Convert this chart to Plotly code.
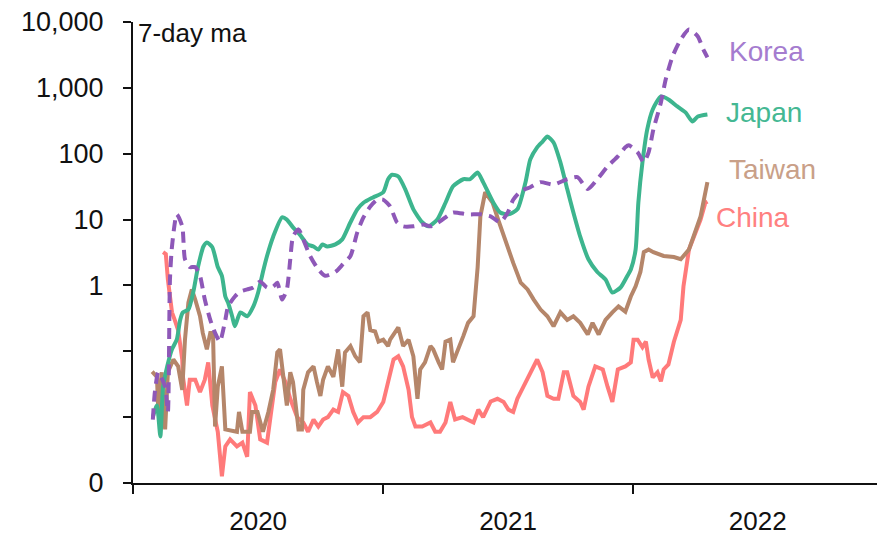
import pandas as pd
import plotly.graph_objects as go

# Daily new cases, 7-day moving average (log scale); x given as days since 1 Jan 2020
START = pd.Timestamp("2020-01-01")

korea_day = [29, 32, 37, 47, 51, 54, 57, 64, 72, 76, 83, 91, 98, 105, 113, 120, 127, 135, 139,
             149, 157, 167, 176, 186, 196, 205, 211, 218, 225, 230, 234, 242, 249, 259, 271, 281,
             296, 307, 318, 328, 337, 347, 357, 366, 376, 386, 395, 410, 425, 435, 449, 468, 489,
             508, 523, 537, 548, 556, 567, 581, 596, 615, 635, 650, 665, 679, 694, 709, 720, 725,
             738, 747, 754, 761, 772, 779, 789, 801, 813, 826, 834, 840]
korea_val = [0.0092, 0.024, 0.048, 0.029, 0.012, 1.2, 3.9, 12, 7.9, 2.5, 1.9, 1.9, 1.4, 0.61, 0.30,
             0.19, 0.14, 0.30, 0.48, 0.68, 0.81, 0.87, 0.93, 1.15, 0.93, 0.96, 1.1, 0.61, 0.87, 2.5,
             5.5, 7.1, 5.0, 2.8, 1.75, 1.4, 1.6, 2.1, 2.8, 6.4, 10.8, 15.8, 20, 20, 15.8, 9.1, 7.9,
             7.9, 8.4, 7.9, 9.4, 12.8, 12, 12, 11.2, 9.1, 12.8, 20, 27, 31, 37, 34, 41, 44, 29, 41,
             64, 91, 125, 134, 105, 74, 105, 234, 600, 1340, 3000, 5430, 7700, 6040, 3830, 2900]

japan_day = [29, 35, 40, 44, 50, 57, 64, 69, 73, 81, 88, 95, 103, 108, 116, 124, 130, 135, 139, 145,
             149, 157, 167, 176, 183, 190, 196, 205, 218, 225, 234, 244, 255, 264, 271, 277, 284,
             296, 306, 318, 328, 337, 351, 366, 373, 379, 388, 398, 410, 423, 432, 445, 457, 468,
             483, 493, 504, 512, 527, 537, 549, 562, 574, 581, 591, 599, 606, 615, 625, 635, 644,
             654, 666, 679, 691, 701, 713, 723, 728, 735, 739, 745, 752, 760, 772, 783, 796, 808,
             818, 826, 840]
japan_val = [0.010, 0.015, 0.0051, 0.029, 0.059, 0.107, 0.15, 0.30, 0.39, 0.43, 0.78, 1.9, 3.9, 4.5,
             3.8, 1.9, 1.4, 0.68, 0.55, 0.34, 0.24, 0.39, 0.34, 0.48, 0.78, 1.6, 2.8, 5.5, 10.8, 10,
             7.6, 5.9, 4.2, 3.9, 3.5, 4.2, 3.9, 4.2, 5.0, 9.1, 14.3, 18, 21.7, 26, 41, 48, 45, 29,
             14.3, 9.1, 7.9, 10, 18, 32, 41, 41, 52, 37, 18, 12.8, 12, 14.3, 37, 82, 125, 153, 183,
             148, 74, 29, 12.8, 5.5, 2.5, 1.6, 1.23, 0.78, 0.93, 1.4, 1.75, 3.5, 18, 74, 234, 470,
             740, 667, 522, 424, 309, 368, 395]

taiwan_day = [28, 35, 37, 42, 47, 51, 59, 66, 72, 76, 81, 86, 91, 98, 102, 108, 113, 117, 120, 124,
              130, 135, 152, 155, 160, 171, 174, 182, 190, 198, 205, 211, 215, 220, 225, 230, 234,
              240, 242, 247, 249, 256, 264, 269, 274, 278, 285, 293, 300, 306, 310, 318, 325, 332,
              337, 343, 347, 354, 359, 366, 373, 376, 388, 395, 403, 410, 416, 420, 427, 435, 439,
              447, 452, 457, 464, 468, 476, 483, 490, 498, 504, 508, 515, 526, 534, 545, 552, 556,
              567, 577, 586, 596, 606, 615, 625, 635, 644, 654, 665, 672, 681, 691, 701, 710, 720,
              728, 735, 742, 747, 754, 761, 776, 791, 801, 813, 823, 830, 840]
taiwan_val = [0.049, 0.041, 0.012, 0.048, 0.0065, 0.048, 0.075, 0.059, 0.026, 0.15, 0.55, 0.87,
              0.61, 0.34, 0.19, 0.107, 0.19, 0.19, 0.0072, 0.029, 0.059, 0.0065, 0.006, 0.012,
              0.006, 0.006, 0.012, 0.012, 0.006, 0.012, 0.026, 0.096, 0.107, 0.041, 0.015, 0.048,
              0.034, 0.010, 0.0065, 0.0065, 0.026, 0.048, 0.059, 0.034, 0.021, 0.037, 0.059, 0.041,
              0.107, 0.029, 0.096, 0.12, 0.084, 0.068, 0.34, 0.39, 0.21, 0.20, 0.14, 0.15, 0.12,
              0.15, 0.23, 0.12, 0.15, 0.084, 0.019, 0.053, 0.068, 0.12, 0.107, 0.068, 0.053, 0.14,
              0.15, 0.068, 0.107, 0.17, 0.27, 0.34, 1.9, 11.2, 26, 18, 10, 4.5, 2.8, 2.2, 1.1,
              0.87, 0.61, 0.43, 0.34, 0.24, 0.39, 0.30, 0.34, 0.27, 0.18, 0.27, 0.18, 0.30, 0.39,
              0.48, 0.40, 0.68, 0.97, 1.6, 3.2, 3.5, 3.2, 2.8, 2.7, 2.5, 3.5, 7.1, 11.2, 37]

china_day = [44, 48, 51, 57, 61, 66, 72, 73, 79, 83, 91, 98, 105, 110, 116, 120, 124, 130, 135, 142,
             152, 160, 167, 171, 179, 186, 196, 201, 208, 215, 223, 230, 240, 249, 256, 264, 271,
             278, 285, 293, 300, 307, 315, 322, 329, 337, 347, 357, 366, 373, 381, 388, 395, 403,
             408, 413, 423, 435, 442, 449, 457, 464, 471, 482, 490, 498, 505, 512, 523, 533, 542,
             549, 556, 562, 571, 581, 591, 599, 606, 615, 622, 630, 635, 644, 654, 659, 666, 676,
             687, 694, 701, 709, 720, 728, 732, 738, 745, 750, 754, 760, 767, 772, 776, 783, 791,
             801, 805, 813, 823, 830, 837, 840]
china_val = [3.2, 3.0, 1.23, 0.39, 0.30, 0.21, 0.075, 0.041, 0.015, 0.037, 0.037, 0.024, 0.037,
             0.068, 0.015, 0.0092, 0.006, 0.00126, 0.0036, 0.0046, 0.0036, 0.0041, 0.0025, 0.024,
             0.015, 0.0046, 0.0041, 0.010, 0.034, 0.053, 0.034, 0.019, 0.010, 0.0083, 0.006,
             0.0092, 0.0072, 0.0092, 0.010, 0.013, 0.012, 0.024, 0.021, 0.012, 0.0083, 0.010,
             0.010, 0.012, 0.017, 0.034, 0.075, 0.084, 0.059, 0.026, 0.010, 0.0072, 0.0072,
             0.0083, 0.006, 0.006, 0.0083, 0.017, 0.0092, 0.010, 0.0092, 0.0083, 0.013, 0.010,
             0.0173, 0.019, 0.017, 0.013, 0.012, 0.019, 0.029, 0.048, 0.075, 0.048, 0.021, 0.019,
             0.019, 0.048, 0.048, 0.021, 0.017, 0.013, 0.029, 0.059, 0.053, 0.029, 0.017, 0.053,
             0.059, 0.068, 0.15, 0.15, 0.115, 0.14, 0.075, 0.040, 0.048, 0.035, 0.053, 0.063,
             0.14, 0.30, 0.97, 3.5, 6.4, 10, 18, 18.8]

# y ticks: decades from 0.001 (shown as "0") to 10,000
y_tickvals = [0.001, 0.01, 0.1, 1, 10, 100, 1000, 10000]
y_ticktext = ["0", "", "", "1", "10", "100", "1,000", "10,000"]

FONT = "Liberation Sans, Arial, sans-serif"


def to_dates(days):
    return START + pd.to_timedelta(days, unit="D")


series = [
    # name, days, values, line colour, label colour, dash, smooth
    ("China", china_day, china_val, "#FF7A7A", "#FF8080", "solid", False),
    ("Taiwan", taiwan_day, taiwan_val, "#B5866A", "#C9A088", "solid", False),
    ("Japan", japan_day, japan_val, "#3DB58E", "#44B893", "solid", True),
    ("Korea", korea_day, korea_val, "#8E58B8", "#A57CCF", "11px,7px", True),
]

fig = go.Figure()
for name, days, vals, col, _, dash, smooth in series:
    line = dict(color=col, width=4, dash=dash)
    if smooth:
        line.update(shape="spline", smoothing=0.6)
    fig.add_trace(go.Scatter(x=to_dates(days), y=vals, mode="lines", name=name, line=line))

# series labels placed at the right-hand end of each line
label_pos = {"Korea": (0.798, 0.935), "Japan": (0.794, 0.803),
             "Taiwan": (0.798, 0.679), "China": (0.781, 0.577)}
for name, _, _, _, lab_col, _, _ in series:
    lx, ly = label_pos[name]
    fig.add_annotation(x=lx, y=ly, xref="paper", yref="paper", text=name, showarrow=False,
                       xanchor="left", yanchor="middle",
                       font=dict(family=FONT, size=28, color=lab_col))

fig.add_annotation(x=0.004, y=1.0, xref="paper", yref="paper", text="7-day ma", showarrow=False,
                   xanchor="left", yanchor="top", yshift=6,
                   font=dict(family=FONT, size=26, color="#111"))

fig.update_layout(
    width=877, height=538,
    margin=dict(l=133, r=0, t=22, b=55),
    paper_bgcolor="white", plot_bgcolor="white",
    showlegend=False,
    font=dict(family=FONT, size=26, color="#111"),
)
fig.update_xaxes(
    type="date", range=["2020-01-01", "2022-12-24"],
    dtick="M12", tick0="2020-01-01", tickformat="%Y", ticklabelmode="period",
    ticks="outside", ticklen=9, tickwidth=2, tickcolor="#111",
    showline=True, linecolor="#111", linewidth=2, showgrid=False, zeroline=False,
    tickfont=dict(family=FONT, size=26, color="#111"), ticklabelstandoff=5,
)
fig.update_yaxes(
    type="log", range=[-3, 4],
    tickvals=y_tickvals, ticktext=y_ticktext,
    ticks="outside", ticklen=8, tickwidth=2, tickcolor="#111",
    showline=True, linecolor="#111", linewidth=2, showgrid=False, zeroline=False,
    tickfont=dict(family=FONT, size=27, color="#111"), ticklabelstandoff=14,
)

fig.write_html("out.html")
